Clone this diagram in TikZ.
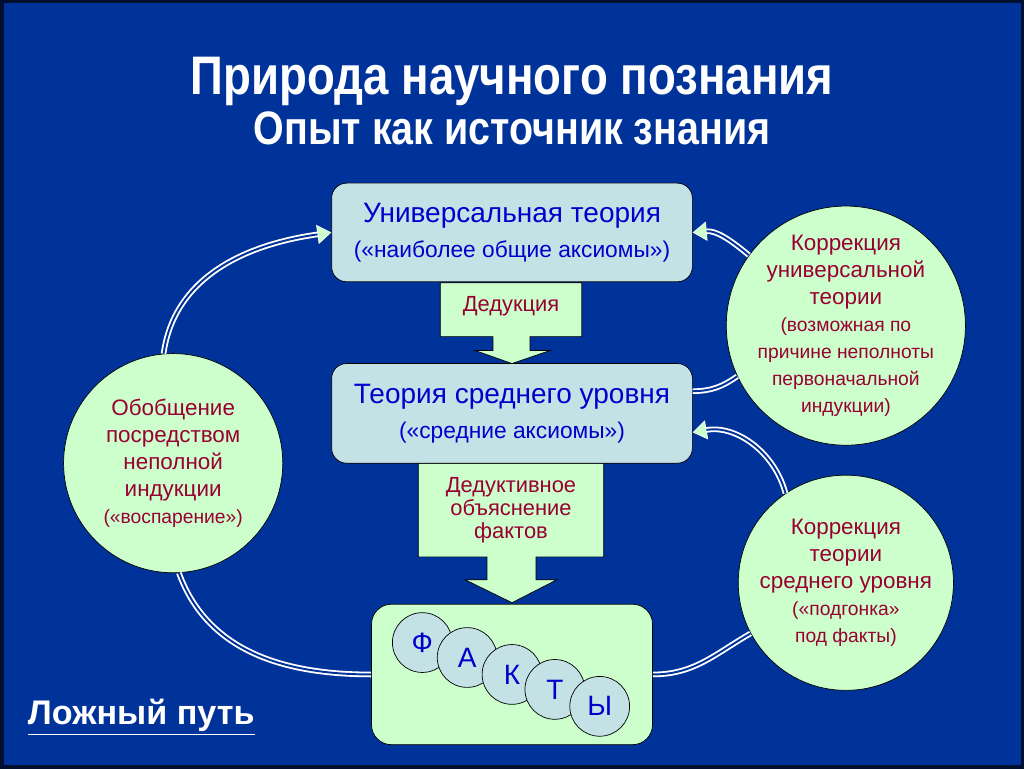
\documentclass[tikz,border=0pt]{standalone}
\usepackage{fontspec}
\setmainfont{Liberation Sans}
\newfontfamily\titlefont[FakeStretch=0.84]{Liberation Sans}
\usetikzlibrary{arrows.meta}
\definecolor{bgblue}{RGB}{0,51,153}
\definecolor{boxblue}{RGB}{196,226,230}
\definecolor{lgreen}{RGB}{204,255,204}
\definecolor{txtblue}{RGB}{0,0,204}
\definecolor{txtred}{RGB}{153,0,51}

\begin{document}
\begin{tikzpicture}[x=0.02cm,y=-0.02cm,
	box/.style={rectangle,rounded corners=0.3cm,draw=black,thin,fill=boxblue,minimum width=7.24cm,minimum height=1.98cm,align=center,text=txtblue,font=\fontsize{16}{19}\selectfont},
	oval/.style={circle,draw=black,thin,fill=lgreen,align=center,text=txtred,inner sep=-10pt,font=\fontsize{12.8}{15.4}\selectfont},
	letter/.style={circle,draw=black,thin,fill=boxblue,minimum size=1.2cm,inner sep=0pt,text=txtblue,font=\fontsize{16}{18}\selectfont},
	barrow/.style={draw=black,thin,fill=lgreen},
	link/.style={draw=bgblue,line width=1.1pt,shorten >=8pt,preaction={draw=white,line width=3.2pt,shorten >=0pt,-{Triangle[length=8pt,width=11pt,fill=lgreen,line width=0.4pt]}}},
	plainlink/.style={draw=bgblue,line width=1.1pt,preaction={draw=white,line width=3.2pt}}]
	\fill[bgblue,draw=black!70!bgblue,line width=2pt] (0,0) rectangle (1024,768);
	\node[text=white,anchor=base,font=\titlefont\bfseries\fontsize{31}{35}\selectfont] (t1) at (512,93) {Природа научного познания};
	\node[text=white,anchor=base,font=\titlefont\bfseries\fontsize{26.8}{30}\selectfont] (t2) at (512,143) {Опыт как источник знания};
	% block arrows
	\path[barrow] (440,282) -- (582,282) -- (582,336) -- (530,336) -- (530,350) -- (550,350) -- (512,363) -- (475,350) -- (493,350) -- (493,336) -- (440,336) -- cycle;
	\path[barrow] (418,463) -- (604,463) -- (604,557) -- (536,557) -- (536,580) -- (557,580) -- (512,603) -- (465,580) -- (487,580) -- (487,557) -- (418,557) -- cycle;
	\node[text=txtred,font=\fontsize{12.5}{15}\selectfont] (ded) at (511,306) {Дедукция};
	\node[text=txtred,align=center,font=\fontsize{12.5}{13}\selectfont] (dedexp) at (511,510) {Дедуктивное\\объяснение\\фактов};
	% boxes
	\node[box] (univ) at (512,231.5) {Универсальная теория\\[1pt]{\fontsize{13}{15}\selectfont(«наиболее общие аксиомы»)}};
	\node[box,minimum height=2cm] (mid) at (512,413) {Теория среднего уровня\\[1pt]{\fontsize{13}{15}\selectfont(«средние аксиомы»)}};
	\node[rectangle,rounded corners=0.4cm,draw=black,thin,fill=lgreen,minimum width=5.64cm,minimum height=2.82cm] (facts) at (512,675) {};
	\node[letter] (l1) at (422,643) {Ф};
	\node[letter] (l2) at (467,658) {А};
	\node[letter] (l3) at (512,675) {К};
	\node[letter] (l4) at (555,690) {Т};
	\node[letter] (l5) at (600,707) {Ы};
	% circles
	\node[oval,minimum size=4.4cm] (gen) at (172,463) {Обобщение\\посредством\\неполной\\индукции\\{\fontsize{11}{15.4}\selectfont(«воспарение»)}};
	\node[oval,minimum size=4.8cm] (corru) at (847,325) {Коррекция\\универсальной\\теории\\{\fontsize{11}{13.4}\selectfont(возможная по}\\{\fontsize{11}{13.4}\selectfont причине неполноты}\\{\fontsize{11}{13.4}\selectfont первоначальной}\\{\fontsize{11}{13.4}\selectfont индукции)}};
	\node[oval,minimum size=4.32cm] (corrm) at (847,583) {Коррекция\\теории\\среднего уровня\\{\fontsize{11}{14}\selectfont(«подгонка»}\\{\fontsize{11}{14}\selectfont под факты)}};
	% links
	\draw[plainlink] (facts.west) to[out=180,in=-70] (gen.-87);
	\draw[link] (gen.95) to[out=82,in=188] (univ.west);
	\draw[plainlink] (facts.east) to[out=0,in=210] (corrm.208);
	\draw[link] (corrm.124) to[out=105,in=10] (mid.-6);
	\draw[plainlink] (mid.7) to[out=0,in=215] (corru.205);
	\draw[link] (corru.144) to[out=140,in=5] (univ.east);
	\node[text=white,font=\bfseries\fontsize{19.5}{23}\selectfont] (false) at (140,718) {\underline{Ложный путь}};
\end{tikzpicture}
\end{document}
